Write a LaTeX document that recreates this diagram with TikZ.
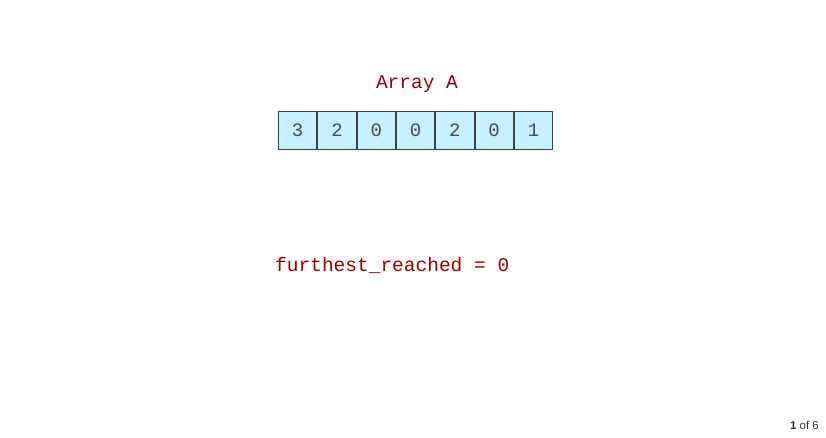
\documentclass[tikz,border=0pt]{standalone}
\usepackage{fontspec}
\setmonofont{Liberation Mono}
\setsansfont{Liberation Sans}
\definecolor{darkred}{HTML}{990000}
\definecolor{cellfill}{HTML}{C4F0FF}
\definecolor{cellborder}{HTML}{404040}
\definecolor{digit}{HTML}{4A4A4A}
\begin{document}
\begin{tikzpicture}[x=1pt,y=-1pt,
  cell/.style={draw=cellborder,fill=cellfill,line width=0.8pt,minimum width=38.3pt,minimum height=38pt,inner sep=0pt,font=\ttfamily\fontsize{19}{19}\selectfont,text=digit},
  codetext/.style={font=\ttfamily\fontsize{19.5}{20}\selectfont,text=darkred,inner sep=0pt}]
\path[fill=white] (0,0) rectangle (826,437);
\useasboundingbox (0,0) rectangle (826,437);
\node[codetext] (title) at (417,84) {Array A};
\foreach \v [count=\i from 0] in {3,2,0,0,2,0,1}{
  \node[cell] (c\i) at ({278+39.3*(\i+0.5)},130) {\v};
}
\node[codetext,anchor=west] (fr) at (275,265) {furthest\_reached = 0};
\node[font=\sffamily\fontsize{11.5}{12}\selectfont,anchor=east,inner sep=0pt,text=black!80] (page) at (819,425) {\textbf{1} of 6};
\end{tikzpicture}
\end{document}
